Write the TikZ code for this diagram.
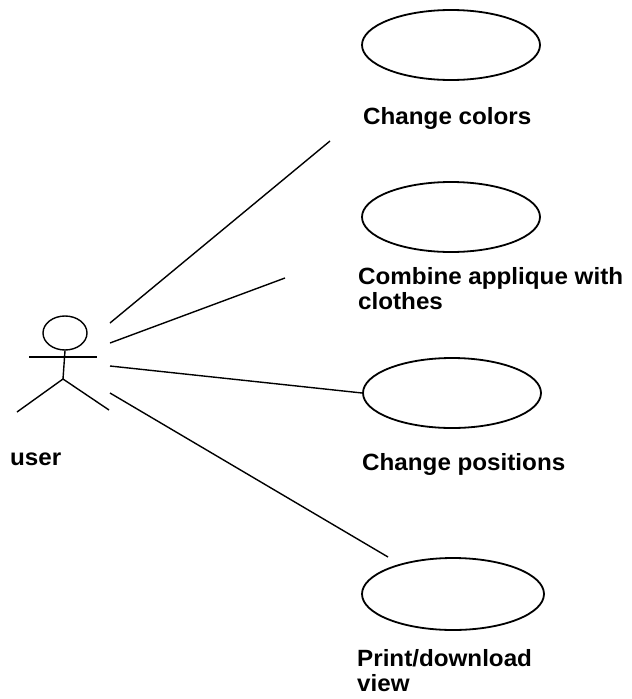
\documentclass[tikz,border=0pt]{standalone}
\usepackage{fontspec}
\setmainfont{Liberation Sans}[FakeStretch=1.03]
\usetikzlibrary{shapes.geometric}
\begin{document}
\begin{tikzpicture}[x=1pt,y=-1pt,
  usecase/.style={draw=black, line width=1.8pt, ellipse, minimum width=178pt, minimum height=70pt, inner sep=0pt},
  lbl/.style={inner sep=0pt, font=\fontsize{23.5}{25}\selectfont\bfseries, align=left},
  stick/.style={line width=1.4pt},
  assoc/.style={line width=1.4pt}]
\useasboundingbox (0,0) rectangle (632,699);
% actor
\node[draw=black, stick, ellipse, minimum width=44pt, minimum height=34pt, inner sep=0pt] (head) at (65,333) {};
\coordinate (armL) at (29,357);
\coordinate (armR) at (97,357);
\coordinate (hip) at (63,379);
\coordinate (footL) at (17,412);
\coordinate (footR) at (109,410);
\draw[stick] (armL) -- (armR);
\draw[stick] (head.south) -- (hip);
\draw[stick] (footL) -- (hip) -- (footR);
\node[lbl, anchor=base west] (user) at (10,465) {user};
% use cases
\node[usecase] (uc1) at (451,45) {};
\node[usecase] (uc2) at (451,217) {};
\node[usecase] (uc3) at (452,393) {};
\node[usecase, minimum width=182pt, minimum height=72pt] (uc4) at (453,594) {};
\node[lbl, anchor=base west] (t1) at (363,124) {Change colors};
\node[lbl, anchor=north west] (t2) at (358,267) {Combine applique with\\clothes};
\node[lbl, anchor=base west] (t3) at (362,470) {Change positions};
\node[lbl, anchor=north west] (t4) at (357,649) {Print/download\\view};
% associations
\coordinate (s1) at (110,323);
\coordinate (s2) at (110,343);
\coordinate (s3) at (110,366);
\coordinate (s4) at (110,393);
\coordinate (e1) at (330,141);
\coordinate (e2) at (285,278);
\coordinate (e4) at (388,557);
\draw[assoc] (s1) -- (e1);
\draw[assoc] (s2) -- (e2);
\draw[assoc] (s3) -- (uc3.west);
\draw[assoc] (s4) -- (e4);
\end{tikzpicture}
\end{document}
